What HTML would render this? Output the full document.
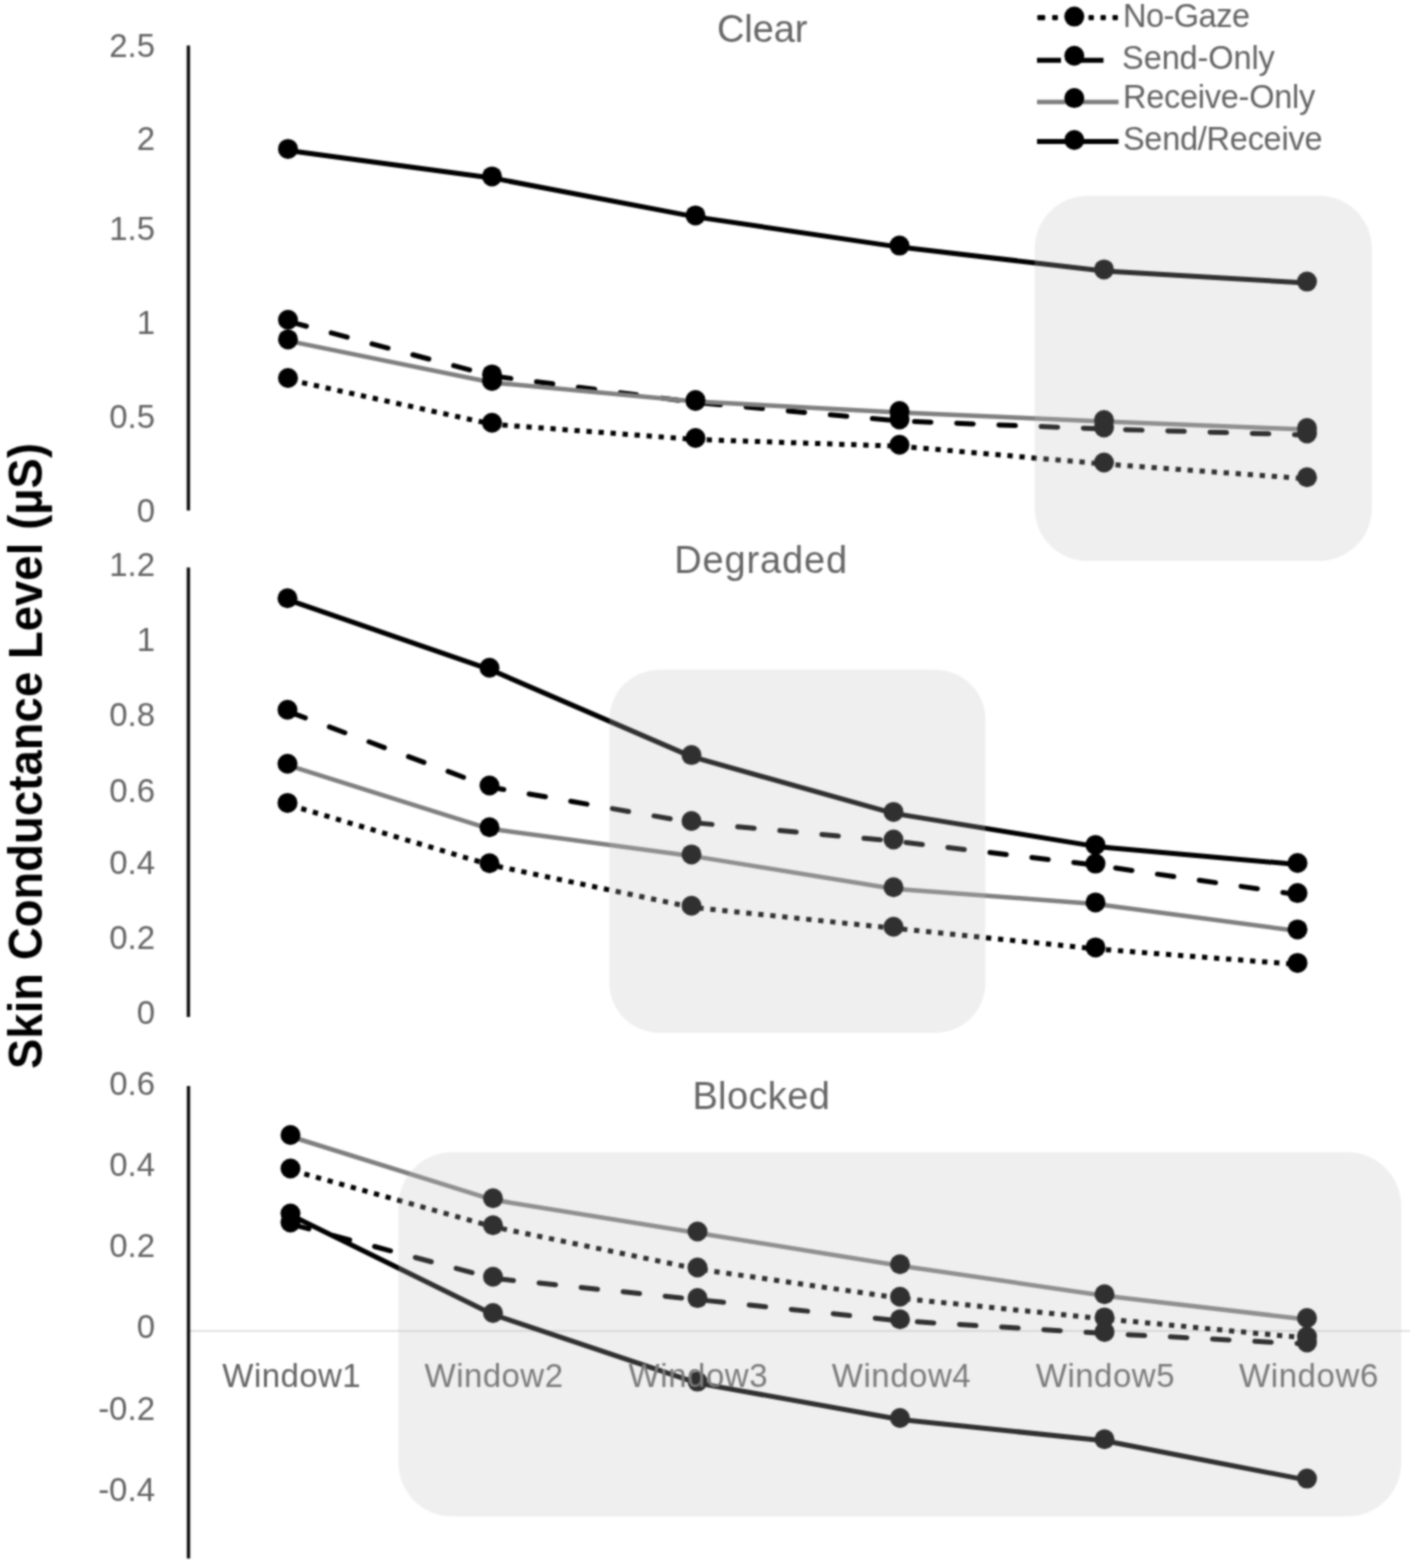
<!DOCTYPE html>
<html><head><meta charset="utf-8"><title>Skin Conductance Level</title>
<style>
html,body{margin:0;padding:0;background:#fff;overflow:hidden;}
svg{display:block;}
text{font-family:"Liberation Sans",sans-serif;}
</style></head><body>
<svg width="1417" height="1565" viewBox="0 0 1417 1565">
<defs><filter id="soft" filterUnits="userSpaceOnUse" x="0" y="0" width="1417" height="1565" color-interpolation-filters="sRGB"><feConvolveMatrix order="5" kernelMatrix="0.00142 0.00904 0.01675 0.00904 0.00142 0.00904 0.05757 0.10673 0.05757 0.00904 0.01675 0.10673 0.19786 0.10673 0.01675 0.00904 0.05757 0.10673 0.05757 0.00904 0.00142 0.00904 0.01675 0.00904 0.00142" divisor="1" edgeMode="duplicate" preserveAlpha="true"/></filter></defs>
<g filter="url(#soft)">
<rect x="0" y="0" width="1417" height="1565" fill="#fff"/>
<line x1="188.4" y1="45.5" x2="188.4" y2="510.5" stroke="#111" stroke-width="3.4"/>
<text x="155" y="56.7" font-size="33" fill="#646464" text-anchor="end">2.5</text>
<text x="155" y="150.2" font-size="33" fill="#646464" text-anchor="end">2</text>
<text x="155" y="240.4" font-size="33" fill="#646464" text-anchor="end">1.5</text>
<text x="155" y="334.1" font-size="33" fill="#646464" text-anchor="end">1</text>
<text x="155" y="428.2" font-size="33" fill="#646464" text-anchor="end">0.5</text>
<text x="155" y="521.5" font-size="33" fill="#646464" text-anchor="end">0</text>
<line x1="188.4" y1="567.5" x2="188.4" y2="1017" stroke="#111" stroke-width="3.4"/>
<text x="155" y="575.7" font-size="33" fill="#646464" text-anchor="end">1.2</text>
<text x="155" y="651" font-size="33" fill="#646464" text-anchor="end">1</text>
<text x="155" y="726.3" font-size="33" fill="#646464" text-anchor="end">0.8</text>
<text x="155" y="801.5" font-size="33" fill="#646464" text-anchor="end">0.6</text>
<text x="155" y="874.2" font-size="33" fill="#646464" text-anchor="end">0.4</text>
<text x="155" y="949.4" font-size="33" fill="#646464" text-anchor="end">0.2</text>
<text x="155" y="1024.2" font-size="33" fill="#646464" text-anchor="end">0</text>
<line x1="188.5" y1="1331" x2="1410" y2="1331" stroke="#d9d9d9" stroke-width="1.6"/>
<line x1="188.5" y1="1086" x2="188.5" y2="1558.5" stroke="#111" stroke-width="3.4"/>
<text x="155" y="1094.7" font-size="33" fill="#646464" text-anchor="end">0.6</text>
<text x="155" y="1175.7" font-size="33" fill="#646464" text-anchor="end">0.4</text>
<text x="155" y="1256.7" font-size="33" fill="#646464" text-anchor="end">0.2</text>
<text x="155" y="1338.4" font-size="33" fill="#646464" text-anchor="end">0</text>
<text x="155" y="1419.5" font-size="33" fill="#646464" text-anchor="end">-0.2</text>
<text x="155" y="1501.3" font-size="33" fill="#646464" text-anchor="end">-0.4</text>
<line x1="288" y1="379.5" x2="492" y2="424.2" stroke="#000" stroke-width="5.0" stroke-dasharray="5.3 6.75" stroke-dashoffset="-2.35"/>
<line x1="492" y1="424.2" x2="695.5" y2="439.5" stroke="#000" stroke-width="5.0" stroke-dasharray="5.3 6.75" stroke-dashoffset="206.49"/>
<line x1="695.5" y1="439.5" x2="899.5" y2="446.2" stroke="#000" stroke-width="5.0" stroke-dasharray="5.3 6.75" stroke-dashoffset="410.56"/>
<line x1="899.5" y1="446.2" x2="1104" y2="464" stroke="#000" stroke-width="5.0" stroke-dasharray="5.3 6.75" stroke-dashoffset="614.67"/>
<line x1="1104" y1="464" x2="1307" y2="478.8" stroke="#000" stroke-width="5.0" stroke-dasharray="5.3 6.75" stroke-dashoffset="819.95"/>
<circle cx="288" cy="378" r="10" fill="#000"/>
<circle cx="492" cy="422.7" r="10" fill="#000"/>
<circle cx="695.5" cy="438" r="10" fill="#000"/>
<circle cx="899.5" cy="444.7" r="10" fill="#000"/>
<circle cx="1104" cy="462.5" r="10" fill="#000"/>
<circle cx="1307" cy="477.3" r="10" fill="#000"/>
<line x1="288" y1="321.3" x2="492" y2="375.9" stroke="#000" stroke-width="5.0" stroke-dasharray="16.5 25.75" stroke-dashoffset="-2.5" stroke-linecap="round"/>
<line x1="492" y1="375.9" x2="695.5" y2="402.5" stroke="#000" stroke-width="5.0" stroke-dasharray="16.5 25.75" stroke-dashoffset="208.68" stroke-linecap="round"/>
<line x1="695.5" y1="402.5" x2="899.5" y2="421" stroke="#000" stroke-width="5.0" stroke-dasharray="16.5 25.75" stroke-dashoffset="413.91" stroke-linecap="round"/>
<line x1="899.5" y1="421" x2="1104" y2="429" stroke="#000" stroke-width="5.0" stroke-dasharray="16.5 25.75" stroke-dashoffset="618.75" stroke-linecap="round"/>
<line x1="1104" y1="429" x2="1307" y2="435" stroke="#000" stroke-width="5.0" stroke-dasharray="16.5 25.75" stroke-dashoffset="823.41" stroke-linecap="round"/>
<circle cx="288" cy="319.8" r="10" fill="#000"/>
<circle cx="492" cy="374.4" r="10" fill="#000"/>
<circle cx="695.5" cy="401" r="10" fill="#000"/>
<circle cx="899.5" cy="419.5" r="10" fill="#000"/>
<circle cx="1104" cy="427.5" r="10" fill="#000"/>
<circle cx="1307" cy="433.5" r="10" fill="#000"/>
<polyline points="288,340.9 492,382.5 695.5,401.5 899.5,412.5 1104,421.5 1307,429.5" fill="none" stroke="#7f7f7f" stroke-width="4.5" stroke-linejoin="round"/>
<circle cx="288" cy="339.4" r="10" fill="#000"/>
<circle cx="492" cy="381" r="10" fill="#000"/>
<circle cx="695.5" cy="400" r="10" fill="#000"/>
<circle cx="899.5" cy="411" r="10" fill="#000"/>
<circle cx="1104" cy="420" r="10" fill="#000"/>
<circle cx="1307" cy="428" r="10" fill="#000"/>
<polyline points="288,150.4 492,177.9 695.5,216.9 899.5,247.1 1104,270.9 1307,283.1" fill="none" stroke="#000" stroke-width="5.0" stroke-linejoin="round"/>
<circle cx="288" cy="148.9" r="10" fill="#000"/>
<circle cx="492" cy="176.4" r="10" fill="#000"/>
<circle cx="695.5" cy="215.4" r="10" fill="#000"/>
<circle cx="899.5" cy="245.6" r="10" fill="#000"/>
<circle cx="1104" cy="269.4" r="10" fill="#000"/>
<circle cx="1307" cy="281.6" r="10" fill="#000"/>
<line x1="287.5" y1="804.4" x2="489.5" y2="864.7" stroke="#000" stroke-width="5.0" stroke-dasharray="5.3 6.75" stroke-dashoffset="-2.35"/>
<line x1="489.5" y1="864.7" x2="691.5" y2="907.2" stroke="#000" stroke-width="5.0" stroke-dasharray="5.3 6.75" stroke-dashoffset="208.46"/>
<line x1="691.5" y1="907.2" x2="893.5" y2="928.2" stroke="#000" stroke-width="5.0" stroke-dasharray="5.3 6.75" stroke-dashoffset="414.88"/>
<line x1="893.5" y1="928.2" x2="1095.5" y2="948.9" stroke="#000" stroke-width="5.0" stroke-dasharray="5.3 6.75" stroke-dashoffset="617.97"/>
<line x1="1095.5" y1="948.9" x2="1297.5" y2="964.4" stroke="#000" stroke-width="5.0" stroke-dasharray="5.3 6.75" stroke-dashoffset="821.03"/>
<circle cx="287.5" cy="802.9" r="10" fill="#000"/>
<circle cx="489.5" cy="863.2" r="10" fill="#000"/>
<circle cx="691.5" cy="905.7" r="10" fill="#000"/>
<circle cx="893.5" cy="926.7" r="10" fill="#000"/>
<circle cx="1095.5" cy="947.4" r="10" fill="#000"/>
<circle cx="1297.5" cy="962.9" r="10" fill="#000"/>
<line x1="287.5" y1="711.2" x2="489.5" y2="787" stroke="#000" stroke-width="5.0" stroke-dasharray="16.5 25.75" stroke-dashoffset="-2.5" stroke-linecap="round"/>
<line x1="489.5" y1="787" x2="691.5" y2="822.5" stroke="#000" stroke-width="5.0" stroke-dasharray="16.5 25.75" stroke-dashoffset="213.25" stroke-linecap="round"/>
<line x1="691.5" y1="822.5" x2="893.5" y2="841" stroke="#000" stroke-width="5.0" stroke-dasharray="16.5 25.75" stroke-dashoffset="418.35" stroke-linecap="round"/>
<line x1="893.5" y1="841" x2="1095.5" y2="865.1" stroke="#000" stroke-width="5.0" stroke-dasharray="16.5 25.75" stroke-dashoffset="621.19" stroke-linecap="round"/>
<line x1="1095.5" y1="865.1" x2="1297.5" y2="894.6" stroke="#000" stroke-width="5.0" stroke-dasharray="16.5 25.75" stroke-dashoffset="824.63" stroke-linecap="round"/>
<circle cx="287.5" cy="709.7" r="10" fill="#000"/>
<circle cx="489.5" cy="785.5" r="10" fill="#000"/>
<circle cx="691.5" cy="821" r="10" fill="#000"/>
<circle cx="893.5" cy="839.5" r="10" fill="#000"/>
<circle cx="1095.5" cy="863.6" r="10" fill="#000"/>
<circle cx="1297.5" cy="893.1" r="10" fill="#000"/>
<polyline points="287.5,765.2 489.5,828.8 691.5,855.9 893.5,888.7 1095.5,903.9 1297.5,930.9" fill="none" stroke="#7f7f7f" stroke-width="4.5" stroke-linejoin="round"/>
<circle cx="287.5" cy="763.7" r="10" fill="#000"/>
<circle cx="489.5" cy="827.3" r="10" fill="#000"/>
<circle cx="691.5" cy="854.4" r="10" fill="#000"/>
<circle cx="893.5" cy="887.2" r="10" fill="#000"/>
<circle cx="1095.5" cy="902.4" r="10" fill="#000"/>
<circle cx="1297.5" cy="929.4" r="10" fill="#000"/>
<polyline points="287.5,599.7 489.5,669.3 691.5,756.6 893.5,813.4 1095.5,846.4 1297.5,864.5" fill="none" stroke="#000" stroke-width="5.0" stroke-linejoin="round"/>
<circle cx="287.5" cy="598.2" r="10" fill="#000"/>
<circle cx="489.5" cy="667.8" r="10" fill="#000"/>
<circle cx="691.5" cy="755.1" r="10" fill="#000"/>
<circle cx="893.5" cy="811.9" r="10" fill="#000"/>
<circle cx="1095.5" cy="844.9" r="10" fill="#000"/>
<circle cx="1297.5" cy="863" r="10" fill="#000"/>
<line x1="290.5" y1="1170" x2="493" y2="1226.8" stroke="#000" stroke-width="5.0" stroke-dasharray="5.3 6.75" stroke-dashoffset="-2.35"/>
<line x1="493" y1="1226.8" x2="697.5" y2="1269" stroke="#000" stroke-width="5.0" stroke-dasharray="5.3 6.75" stroke-dashoffset="207.97"/>
<line x1="697.5" y1="1269" x2="900" y2="1298.2" stroke="#000" stroke-width="5.0" stroke-dasharray="5.3 6.75" stroke-dashoffset="416.77"/>
<line x1="900" y1="1298.2" x2="1104.5" y2="1318.9" stroke="#000" stroke-width="5.0" stroke-dasharray="5.3 6.75" stroke-dashoffset="621.37"/>
<line x1="1104.5" y1="1318.9" x2="1307" y2="1338" stroke="#000" stroke-width="5.0" stroke-dasharray="5.3 6.75" stroke-dashoffset="826.91"/>
<circle cx="290.5" cy="1168.5" r="10" fill="#000"/>
<circle cx="493" cy="1225.3" r="10" fill="#000"/>
<circle cx="697.5" cy="1267.5" r="10" fill="#000"/>
<circle cx="900" cy="1296.7" r="10" fill="#000"/>
<circle cx="1104.5" cy="1317.4" r="10" fill="#000"/>
<circle cx="1307" cy="1336.5" r="10" fill="#000"/>
<line x1="290.5" y1="1224" x2="493" y2="1278.3" stroke="#000" stroke-width="5.0" stroke-dasharray="16.5 25.75" stroke-dashoffset="-2.5" stroke-linecap="round"/>
<line x1="493" y1="1278.3" x2="697.5" y2="1299.6" stroke="#000" stroke-width="5.0" stroke-dasharray="16.5 25.75" stroke-dashoffset="207.15" stroke-linecap="round"/>
<line x1="697.5" y1="1299.6" x2="900" y2="1320.8" stroke="#000" stroke-width="5.0" stroke-dasharray="16.5 25.75" stroke-dashoffset="412.76" stroke-linecap="round"/>
<line x1="900" y1="1320.8" x2="1104.5" y2="1333.4" stroke="#000" stroke-width="5.0" stroke-dasharray="16.5 25.75" stroke-dashoffset="616.37" stroke-linecap="round"/>
<line x1="1104.5" y1="1333.4" x2="1307" y2="1344" stroke="#000" stroke-width="5.0" stroke-dasharray="16.5 25.75" stroke-dashoffset="821.25" stroke-linecap="round"/>
<circle cx="290.5" cy="1222.5" r="10" fill="#000"/>
<circle cx="493" cy="1276.8" r="10" fill="#000"/>
<circle cx="697.5" cy="1298.1" r="10" fill="#000"/>
<circle cx="900" cy="1319.3" r="10" fill="#000"/>
<circle cx="1104.5" cy="1331.9" r="10" fill="#000"/>
<circle cx="1307" cy="1342.5" r="10" fill="#000"/>
<polyline points="290.5,1136.5 493,1199.8 697.5,1233 900,1265.7 1104.5,1295.7 1307,1319.5" fill="none" stroke="#7f7f7f" stroke-width="4.5" stroke-linejoin="round"/>
<circle cx="290.5" cy="1135" r="10" fill="#000"/>
<circle cx="493" cy="1198.3" r="10" fill="#000"/>
<circle cx="697.5" cy="1231.5" r="10" fill="#000"/>
<circle cx="900" cy="1264.2" r="10" fill="#000"/>
<circle cx="1104.5" cy="1294.2" r="10" fill="#000"/>
<circle cx="1307" cy="1318" r="10" fill="#000"/>
<polyline points="290.5,1215 493,1314.5 697.5,1383.1 900,1419.5 1104.5,1440.8 1307,1480.1" fill="none" stroke="#000" stroke-width="5.0" stroke-linejoin="round"/>
<circle cx="290.5" cy="1213.5" r="10" fill="#000"/>
<circle cx="493" cy="1313" r="10" fill="#000"/>
<circle cx="697.5" cy="1381.6" r="10" fill="#000"/>
<circle cx="900" cy="1418" r="10" fill="#000"/>
<circle cx="1104.5" cy="1439.3" r="10" fill="#000"/>
<circle cx="1307" cy="1478.6" r="10" fill="#000"/>
<text x="222.3" y="1386.8" font-size="33" fill="#646464" textLength="138.4" lengthAdjust="spacing">Window1</text>
<text x="424.6" y="1386.8" font-size="33" fill="#646464" textLength="138.4" lengthAdjust="spacing">Window2</text>
<text x="628.6" y="1386.8" font-size="33" fill="#646464" textLength="138.9" lengthAdjust="spacing">Window3</text>
<text x="831.8" y="1386.8" font-size="33" fill="#646464" textLength="138.9" lengthAdjust="spacing">Window4</text>
<text x="1035.8" y="1386.8" font-size="33" fill="#646464" textLength="138.7" lengthAdjust="spacing">Window5</text>
<text x="1239" y="1386.8" font-size="33" fill="#646464" textLength="139.3" lengthAdjust="spacing">Window6</text>
<text x="717" y="41.9" font-size="38" fill="#666" textLength="90.4" lengthAdjust="spacing">Clear</text>
<text x="674.2" y="572.8" font-size="38" fill="#666" textLength="173" lengthAdjust="spacing">Degraded</text>
<text x="692.4" y="1109.4" font-size="38" fill="#666" textLength="137.4" lengthAdjust="spacing">Blocked</text>
<rect x="1034.7" y="195.8" width="337.2" height="365.3" rx="53" ry="53" fill="#bfbfbf" fill-opacity="0.25"/>
<rect x="609.4" y="669.7" width="376" height="363.2" rx="50" ry="50" fill="#bfbfbf" fill-opacity="0.25"/>
<rect x="398.4" y="1152.2" width="1002.8" height="364.3" rx="54" ry="54" fill="#bfbfbf" fill-opacity="0.25"/>
<rect x="1037.3" y="15.000000000000002" width="7.9" height="5.2" rx="1.2" fill="#000"/>
<rect x="1052.2" y="15.000000000000002" width="5.7" height="5.2" rx="1.2" fill="#000"/>
<rect x="1088.5" y="15.000000000000002" width="5.4" height="5.2" rx="1.2" fill="#000"/>
<rect x="1100.5" y="15.000000000000002" width="5.4" height="5.2" rx="1.2" fill="#000"/>
<rect x="1112.5" y="15.000000000000002" width="5.4" height="5.2" rx="1.2" fill="#000"/>
<circle cx="1074.3" cy="16.6" r="10" fill="#000"/>
<text x="1122.9" y="27.3" font-size="32.5" fill="#646464" textLength="127.1" lengthAdjust="spacing">No-Gaze</text>
<line x1="1037" y1="60.3" x2="1061" y2="60.3" stroke="#000" stroke-width="5.0"/>
<line x1="1080" y1="60.3" x2="1103.5" y2="60.3" stroke="#000" stroke-width="5.0"/>
<circle cx="1074.3" cy="55.8" r="10" fill="#000"/>
<text x="1122.1" y="69.1" font-size="32.5" fill="#646464" textLength="152.7" lengthAdjust="spacing">Send-Only</text>
<line x1="1037" y1="102.1" x2="1118.5" y2="102.1" stroke="#7f7f7f" stroke-width="4.5"/>
<circle cx="1074.3" cy="98.1" r="10" fill="#000"/>
<text x="1122.9" y="108.3" font-size="32.5" fill="#646464" textLength="192.3" lengthAdjust="spacing">Receive-Only</text>
<line x1="1037" y1="141.6" x2="1118.5" y2="141.6" stroke="#000" stroke-width="5.0"/>
<circle cx="1074.3" cy="140.0" r="10" fill="#000"/>
<text x="1122.9" y="150.2" font-size="32.5" fill="#646464" textLength="199.6" lengthAdjust="spacing">Send/Receive</text>
<text transform="translate(41.5,1069) rotate(-90) scale(0.943,1)" x="0" y="0" font-size="48" font-weight="bold" fill="#000" textLength="663.84" lengthAdjust="spacing">Skin Conductance Level (&#181;S)</text>
</g>
</svg>
</body></html>
